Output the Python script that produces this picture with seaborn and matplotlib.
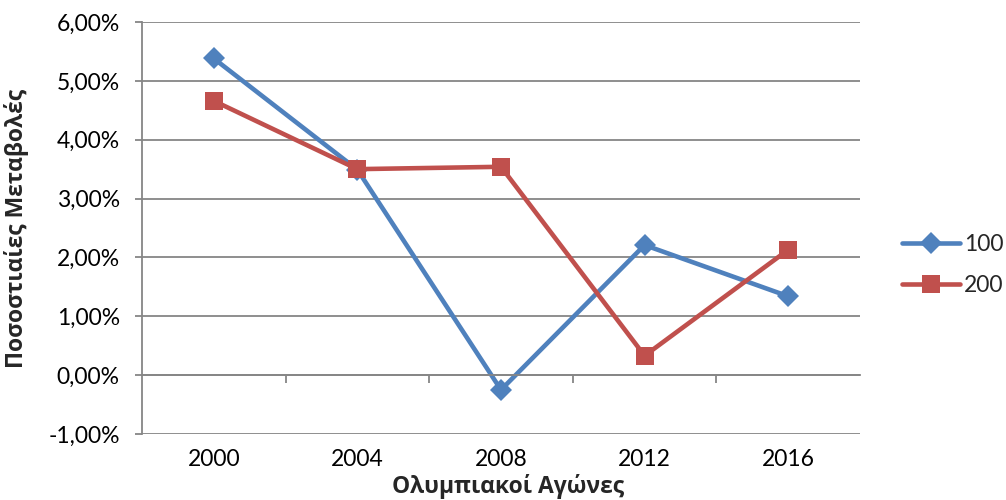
import matplotlib
matplotlib.use("Agg")
import matplotlib.pyplot as plt
from matplotlib.ticker import FuncFormatter, FixedLocator
import seaborn as sns
import pandas as pd

# Olympic years and percentage changes of winning times
years = ["2000", "2004", "2008", "2012", "2016"]
pct_100 = [5.38, 3.49, -0.25, 2.21, 1.34]
pct_200 = [4.66, 3.50, 3.54, 0.33, 2.13]
series_names = ["100", "200"]

df = pd.DataFrame({
    "year": years * 2,
    "value": pct_100 + pct_200,
    "event": [series_names[0]] * len(years) + [series_names[1]] * len(years),
})

sns.set_theme(style="white")
plt.rcParams["font.family"] = ["Lato", "DejaVu Sans"]

fig = plt.figure(figsize=(10.06, 5.0), dpi=100)
ax = fig.add_axes([142 / 1006, 1 - 434 / 500, 718 / 1006, 412 / 500])

palette = {"100": "#4F81BD", "200": "#C0504D"}
markers = {"100": "D", "200": "s"}

sns.lineplot(data=df, x="year", y="value", hue="event", style="event",
             palette=palette, markers=markers, dashes=False, linewidth=3.3,
             markeredgewidth=0, ax=ax, legend=False, sort=False)
for line, ms in zip(ax.get_lines(), [11, 13]):
    line.set_markersize(ms)

grid_c = "#868686"
ax.set_ylim(-1, 6)
ax.set_xlim(-0.5, len(years) - 0.5)
ax.set_yticks(range(-1, 7))
ax.yaxis.set_major_formatter(FuncFormatter(lambda v, p: f"{v:.2f}%".replace(".", ",")))
ax.grid(axis="y", color=grid_c, linewidth=1.3)
ax.grid(axis="x", visible=False)
ax.set_axisbelow(True)

for side in ["top", "right"]:
    ax.spines[side].set_visible(False)
ax.spines["left"].set_color(grid_c)
ax.spines["left"].set_linewidth(1.3)
ax.spines["bottom"].set_position(("data", 0))
ax.spines["bottom"].set_color(grid_c)
ax.spines["bottom"].set_linewidth(1.3)

tick_fs = 16.5
ax.tick_params(axis="y", which="major", left=True, length=5, width=1.3, color=grid_c,
               labelsize=tick_fs, pad=11, labelcolor="black")
ax.xaxis.set_minor_locator(FixedLocator([i + 0.5 for i in range(len(years) - 1)]))
ax.tick_params(axis="x", which="minor", bottom=True, length=6, width=1.3, color=grid_c,
               direction="out")
ax.tick_params(axis="x", which="major", bottom=True, length=0, labelsize=tick_fs, pad=53,
               labelcolor="black")

label_font = dict(family=["Open Sans", "DejaVu Sans"], fontsize=16.5, fontweight="bold")
ax.set_xlabel("Ολυμπιακοί Αγώνες", **label_font)
ax.set_ylabel("Ποσοστιαίες Μεταβολές", **label_font)
ax.xaxis.set_label_coords(0.51, -0.097)
ax.yaxis.set_label_coords(-0.158, 0.5)

handles = [plt.Line2D([], [], color=palette[n], marker=markers[n], linewidth=3.3,
                      markersize=ms, markeredgewidth=0)
           for n, ms in zip(series_names, [11, 13])]
fig.legend(handles, series_names, loc="center left", bbox_to_anchor=(0.897, 0.47),
           frameon=False, fontsize=tick_fs, handlelength=2.5, handletextpad=0.2,
           labelspacing=0.9, borderpad=0, borderaxespad=0)

fig.savefig("out.png", dpi=100, facecolor="white")
